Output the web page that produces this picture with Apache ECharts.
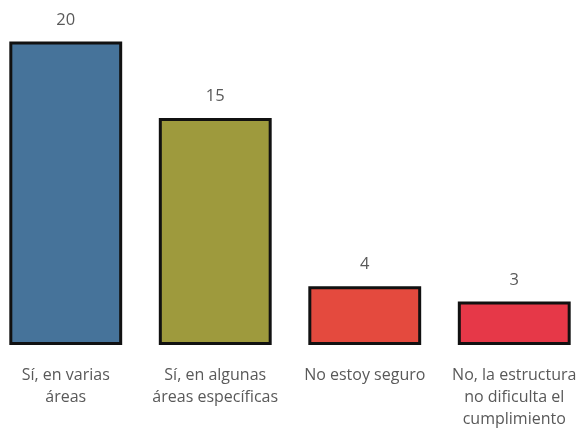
<!DOCTYPE html>
<html>
<head>
<meta charset="utf-8">
<script src="https://cdn.jsdelivr.net/npm/echarts@6/dist/echarts.min.js"></script>
<style>
  html, body { margin: 0; padding: 0; background: #fff; overflow: hidden; }
  #chart { width: 598px; height: 429px; margin-left: -9px; }
</style>
</head>
<body>
<div id="chart"></div>
<script>
const categories = [
  'Sí, en varias áreas',
  'Sí, en algunas áreas específicas',
  'No estoy seguro',
  'No, la estructura no dificulta el cumplimiento'
];
// label text as wrapped in the original
const tickLabels = [
  'Sí, en varias\náreas',
  'Sí, en algunas\náreas específicas',
  'No estoy seguro',
  'No, la estructura\nno dificulta el\ncumplimiento'
];
const values = [20, 15, 4, 3];
const barColors = ['#46739a', '#9e9a3d', '#e44a3e', '#e63848'];

const chart = echarts.init(document.getElementById('chart'), null, { renderer: 'canvas' });

chart.setOption({
  animation: false,
  grid: {
    left: 0, right: 0, top: 41.5, bottom: 85.5,
    containLabel: false,
    outerBoundsMode: 'none'
  },
  xAxis: {
    type: 'category',
    data: categories,
    axisLine: { show: false },
    axisTick: { show: false },
    axisLabel: {
      interval: 0,
      margin: 21,
      color: '#595959',
      fontFamily: 'Open Sans',
      fontSize: 16,
      lineHeight: 22,
      formatter: (value, idx) => tickLabels[idx]
    }
  },
  yAxis: {
    type: 'value',
    min: 0.25,
    max: 20,
    show: false,
    splitLine: { show: false }
  },
  series: [{
    type: 'bar',
    barWidth: '75.5%',
    data: values.map((v, i) => ({
      value: v,
      itemStyle: { color: barColors[i] }
    })),
    itemStyle: { borderColor: '#111', borderWidth: 3 },
    label: {
      show: true,
      position: 'top',
      distance: 13,
      color: '#595959',
      fontFamily: 'Open Sans',
      fontSize: 16.5
    }
  }]
});
</script>
</body>
</html>
